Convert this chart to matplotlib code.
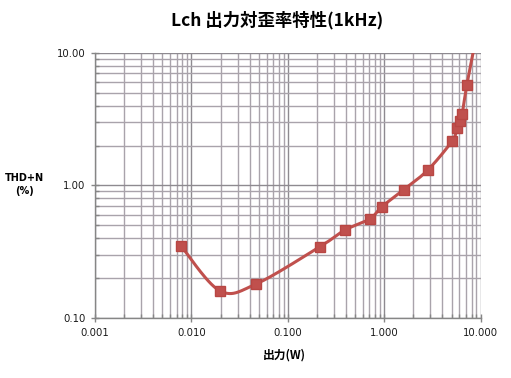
import numpy as np
import matplotlib
matplotlib.use('Agg')
import matplotlib.pyplot as plt
from matplotlib.ticker import LogLocator, FixedLocator, FuncFormatter, NullFormatter

# 出力 (W) と THD+N (%) の測定値
power_w = [0.0078, 0.0197, 0.0466, 0.215, 0.389, 0.708, 0.94, 1.58, 2.83,
           5.07, 5.64, 6.05, 6.40, 7.16, 8.9]
thd_pct = [0.349, 0.160, 0.180, 0.345, 0.460, 0.560, 0.690, 0.925, 1.31,
           2.18, 2.72, 3.07, 3.47, 5.73, 13.0]

title = 'Lch 出力対歪率特性(1kHz)'
xlabel = '出力(W)'
ylabel = 'THD+N\n(%)'

jp = ['Noto Sans CJK JP', 'DejaVu Sans']


def smooth(xs, ys, n=30):
    # Excel風のスムージング線 (log空間でベジェ曲線)
    px = np.log10(xs)
    py = np.log10(ys)
    pts = np.column_stack([px, py])
    out = []
    for i in range(len(pts) - 1):
        p0 = pts[i - 1] if i > 0 else pts[i]
        p1 = pts[i]
        p2 = pts[i + 1]
        p3 = pts[i + 2] if i + 2 < len(pts) else pts[i + 1]
        c1 = p1 + (p2 - p0) / 6
        c2 = p2 - (p3 - p1) / 6
        t = np.linspace(0, 1, n)[:, None]
        seg = ((1 - t) ** 3) * p1 + 3 * ((1 - t) ** 2) * t * c1 + 3 * (1 - t) * t ** 2 * c2 + t ** 3 * p2
        out.append(seg)
    out = np.vstack(out)
    return 10 ** out[:, 0], 10 ** out[:, 1]


fig = plt.figure(figsize=(5.11, 3.78), dpi=100)
ax = fig.add_axes([0.186, 0.159, 0.755, 0.701])

ax.set_xscale('log')
ax.set_yscale('log')
ax.set_xlim(0.001, 10)
ax.set_ylim(0.1, 10)

ax.xaxis.set_major_locator(FixedLocator([0.001, 0.01, 0.1, 1, 10]))
ax.yaxis.set_major_locator(FixedLocator([0.1, 1, 10]))
ax.xaxis.set_minor_locator(LogLocator(base=10, subs=np.arange(2, 10)))
ax.yaxis.set_minor_locator(LogLocator(base=10, subs=np.arange(2, 10)))
ax.xaxis.set_major_formatter(FuncFormatter(lambda v, p: '%.3f' % v))
ax.yaxis.set_major_formatter(FuncFormatter(lambda v, p: '%.2f' % v))
ax.xaxis.set_minor_formatter(NullFormatter())
ax.yaxis.set_minor_formatter(NullFormatter())

ax.grid(True, which='minor', color='#a9a3ab', linewidth=1.0)
ax.grid(True, which='major', color='#8e8a90', linewidth=1.0)
ax.set_axisbelow(True)

for s in ['top', 'right']:
    ax.spines[s].set_visible(False)
for s in ['left', 'bottom']:
    ax.spines[s].set_color('#868686')
    ax.spines[s].set_linewidth(1.0)

ax.tick_params(which='major', direction='inout', length=6, width=1.0,
               color='#868686', labelsize=7.3, labelcolor='#1a1a1a', pad=4)
ax.tick_params(which='minor', direction='in', length=3, width=1.0, color='#868686')

sx, sy = smooth(power_w, thd_pct)
ax.plot(sx, sy, color='#c0504d', linewidth=2.2, zorder=3)
ax.plot(power_w, thd_pct, linestyle='none', marker='s', markersize=7.5,
        markerfacecolor='#c0504d', markeredgecolor='#b84643', zorder=4)

fig.text(0.543, 0.947, title, ha='center', va='center', fontsize=12.5,
         fontweight='bold', family=jp)
fig.text(0.556, 0.062, xlabel, ha='center', va='center', fontsize=8.5,
         fontweight='bold', family=jp)
fig.text(0.048, 0.512, ylabel, ha='center', va='center', fontsize=7,
         fontweight='bold', linespacing=1.4)

fig.savefig('out.png', dpi=100)
